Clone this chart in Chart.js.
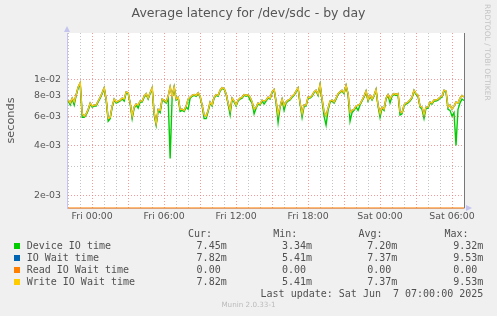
<!DOCTYPE html>
<html>
<head>
<meta charset="utf-8">
<script src="https://cdn.jsdelivr.net/npm/chart.js@4.4.1/dist/chart.umd.min.js"></script>
<style>
  body { margin: 0; background: #f0f0f0; }
  #wrap { position: relative; width: 497px; height: 316px; overflow: hidden; font-family: "DejaVu Sans", sans-serif; color: #555; }
  #wrap canvas { position: absolute; left: 0; top: 0; }
  .t { position: absolute; white-space: pre; line-height: 12px; }
  .mono { font-family: "DejaVu Sans Mono", monospace; font-size: 10px; color: #505050; }
  .sw { position: absolute; width: 6px; height: 6px; }
</style>
</head>
<body>
<div id="wrap">
  <canvas id="latencyChart" width="497" height="316"></canvas>
  <div class="t" style="left:0;width:497px;top:7px;text-align:center;font-size:12.5px;color:#555;">Average latency for /dev/sdc - by day</div>
  <div class="t" style="left:483px;top:4px;writing-mode:vertical-rl;font-size:7.5px;line-height:9px;color:#c4c4c4;">RRDTOOL / TOBI OETIKER</div>
  <div id="legend"></div>
</div>
<script>
// Munin "diskstats latency" day graph, values in milliseconds, one point every 10 min
// first point Thu 22:00 (hour -2 relative to Fri 00:00)
const startHour = -2;
const stepHours = 1 / 6;

const deviceIoTime = [
  7.4, 7.0, 7.6, 7.0, 8.0, 8.9, 9.32, 5.9, 5.9, 6.1,
  6.5, 7.1, 6.8, 6.9, 6.9, 7.3, 7.7, 8.2, 8.8, 7.5,
  5.6, 5.8, 6.8, 7.5, 7.2, 7.3, 7.4, 7.6, 7.4, 8.3,
  8.2, 7.1, 5.8, 6.7, 7.0, 6.7, 7.3, 7.3, 7.8, 8.1,
  7.6, 8.2, 8.8, 6.1, 5.3, 6.5, 6.3, 7.5, 7.4, 7.2,
  7.7, 3.34, 7.8, 8.9, 7.5, 7.7, 6.4, 6.5, 6.4, 6.8,
  6.6, 7.7, 7.9, 8.0, 7.9, 8.2, 7.8, 6.9, 5.8, 5.8,
  6.4, 7.2, 6.9, 7.7, 8.0, 7.9, 8.5, 8.8, 8.7, 8.1,
  7.1, 6.1, 7.6, 7.3, 6.9, 7.4, 7.6, 7.7, 8.0, 7.9,
  8.0, 7.5, 7.2, 6.2, 6.7, 7.1, 7.0, 7.4, 7.1, 7.4,
  7.7, 7.6, 8.3, 8.6, 7.2, 5.5, 6.8, 7.5, 6.5, 7.2,
  7.4, 7.5, 7.8, 8.0, 8.4, 8.8, 7.1, 5.9, 6.9, 6.9,
  7.7, 7.7, 7.9, 8.3, 8.5, 8.0, 9.2, 7.4, 6.0, 5.3,
  6.5, 7.3, 7.4, 7.2, 7.6, 8.1, 8.3, 8.5, 8.2, 9.1,
  8.1, 5.6, 6.3, 6.5, 6.8, 6.5, 7.0, 7.4, 7.8, 8.4,
  7.4, 7.9, 7.5, 7.9, 8.6, 6.9, 5.9, 6.7, 6.5, 7.6,
  8.0, 7.2, 7.9, 8.1, 8.0, 8.1, 6.1, 6.2, 6.9, 7.1,
  7.2, 7.4, 7.7, 8.5, 8.1, 7.9, 6.8, 6.6, 5.8, 6.7,
  6.7, 7.2, 7.1, 7.4, 7.4, 7.5, 7.7, 7.8, 8.5, 8.4,
  6.6, 6.5, 6.0, 6.3, 4.0, 6.6, 7.2, 7.6, 7.45
];

const writeWaitTime = [
  7.5, 7.2, 7.7, 7.3, 8.1, 9.0, 9.53, 6.2, 6.0, 6.2,
  6.6, 7.2, 6.9, 7.0, 7.0, 7.4, 7.8, 8.3, 8.9, 7.6,
  5.8, 5.9, 6.9, 7.6, 7.3, 7.4, 7.5, 7.7, 7.6, 8.4,
  8.3, 7.2, 6.0, 6.8, 7.1, 7.0, 7.4, 7.4, 7.9, 8.2,
  7.7, 8.3, 8.9, 6.3, 5.41, 6.6, 6.5, 7.6, 7.5, 7.3,
  7.9, 9.0, 7.9, 9.0, 7.6, 7.8, 6.6, 6.6, 6.5, 6.9,
  7.6, 7.8, 8.0, 8.1, 8.0, 8.3, 7.9, 7.0, 6.1, 6.0,
  6.5, 7.3, 7.0, 7.8, 8.1, 8.0, 8.6, 8.9, 8.8, 8.2,
  7.2, 6.5, 7.7, 7.4, 7.0, 7.5, 7.7, 7.8, 8.1, 8.0,
  8.1, 7.8, 7.3, 6.6, 6.8, 7.2, 7.1, 7.5, 7.4, 7.5,
  7.8, 7.7, 8.4, 8.7, 7.4, 6.1, 6.9, 7.6, 6.9, 7.3,
  7.5, 7.6, 7.9, 8.1, 8.5, 8.9, 7.2, 6.2, 7.0, 7.0,
  7.8, 7.8, 8.0, 8.4, 8.6, 8.1, 9.3, 7.6, 6.4, 6.0,
  6.7, 7.4, 7.5, 7.3, 7.7, 8.2, 8.4, 8.6, 8.3, 9.2,
  8.2, 6.3, 6.5, 6.6, 6.9, 7.0, 7.1, 7.5, 7.9, 8.5,
  7.5, 8.0, 7.6, 8.0, 8.7, 7.0, 6.2, 6.8, 6.6, 7.7,
  8.1, 7.6, 8.0, 8.2, 8.1, 8.2, 6.4, 6.3, 7.0, 7.2,
  7.3, 7.5, 7.8, 8.6, 8.2, 8.0, 6.9, 6.8, 6.1, 6.8,
  6.8, 7.3, 7.2, 7.5, 7.5, 7.6, 7.8, 7.9, 8.6, 8.5,
  6.8, 7.0, 6.6, 6.9, 7.3, 7.2, 7.7, 8.0, 7.82
];

// IO wait total is the same as write wait here (no reads at all)
const ioWaitTime = [...writeWaitTime];
const readWaitTime = new Array(writeWaitTime.length).fill(0);

const seriesNames = ["Device IO time", "IO Wait time", "Read IO Wait time", "Write IO Wait time"];
const seriesColors = ["#00cc00", "#0066b3", "#ff8000", "#ffcc00"];
const curValues = ["7.45m", "7.82m", "0.00 ", "7.82m"];
const minValues = ["3.34m", "5.41m", "0.00 ", "5.41m"];
const avgValues = ["7.20m", "7.37m", "0.00 ", "7.37m"];
const maxValues = ["9.32m", "9.53m", "0.00 ", "9.53m"];

const xLabelHours = [0, 6, 12, 18, 24, 30];
const xTickLabels = ["Fri 00:00", "Fri 06:00", "Fri 12:00", "Fri 18:00", "Sat 00:00", "Sat 06:00"];
const yGridValues = [0.002, 0.003, 0.004, 0.005, 0.006, 0.007, 0.008, 0.01];
const yTickLabels = ["2e-03", "", "4e-03", "", "6e-03", "", "8e-03", "1e-02"];

const yMin = 0.00168;
const yMax = 0.019;

// ms -> seconds, zero sits on the floor of the log axis like rrdtool does
function toPoints(values) {
  return values.map((v, i) => ({
    x: startHour + i * stepHours,
    y: v > 0 ? v / 1000 : yMin,
  }));
}

const hourTicks = [];
for (let h = -2; h <= 30; h++) hourTicks.push(h);

const gridRed = "rgba(240, 120, 120, 0.75)";
const gridGray = "rgba(190, 190, 190, 0.9)";
const axisBlue = "#c4c4ee";

const framePlugin = {
  id: "frame",
  beforeDraw(chart) {
    const { ctx, chartArea: a } = chart;
    ctx.save();
    ctx.fillStyle = "#ffffff";
    ctx.fillRect(a.left, a.top, a.right - a.left, a.bottom - a.top);
    ctx.restore();
  },
  afterDraw(chart) {
    const { ctx, chartArea: a } = chart;
    ctx.save();
    ctx.strokeStyle = "#777";
    ctx.lineWidth = 1;
    const rx = Math.round(a.right) + 0.5;
    ctx.beginPath();
    ctx.moveTo(rx, a.top);
    ctx.lineTo(rx, a.bottom);
    ctx.stroke();
    // axis arrows
    ctx.fillStyle = axisBlue;
    ctx.beginPath();
    ctx.moveTo(a.left - 3, a.top - 1);
    ctx.lineTo(a.left + 3, a.top - 1);
    ctx.lineTo(a.left, a.top - 7);
    ctx.fill();
    ctx.beginPath();
    ctx.moveTo(a.right + 2, a.bottom - 3);
    ctx.lineTo(a.right + 2, a.bottom + 3);
    ctx.lineTo(a.right + 8, a.bottom);
    ctx.fill();
    ctx.restore();
  },
};

const ctx = document.getElementById("latencyChart").getContext("2d");
new Chart(ctx, {
  type: "line",
  data: {
    datasets: [
      { label: seriesNames[0], data: toPoints(deviceIoTime), borderColor: seriesColors[0], order: 4 },
      { label: seriesNames[1], data: toPoints(ioWaitTime), borderColor: seriesColors[1], order: 3 },
      {
        label: seriesNames[2],
        data: toPoints(readWaitTime),
        borderColor: "rgba(255, 128, 0, 0.7)",
        order: 2,
        borderWidth: 1.5,
        clip: { left: 0, right: 0, top: 0, bottom: 2 },
      },
      { label: seriesNames[3], data: toPoints(writeWaitTime), borderColor: seriesColors[3], order: 1 },
    ],
  },
  options: {
    responsive: false,
    animation: false,
    layout: { padding: { top: 33, right: 33, bottom: 88, left: 0 } },
    elements: {
      point: { radius: 0 },
      line: { borderWidth: 1.4, tension: 0, fill: false },
    },
    plugins: {
      legend: { display: false },
      tooltip: { enabled: false },
    },
    scales: {
      x: {
        type: "linear",
        min: -2.1,
        max: 31,
        afterBuildTicks: (axis) => {
          axis.ticks = hourTicks.map((h) => ({ value: h }));
        },
        afterFit: (axis) => {
          axis.height = 20;
        },
        grid: {
          drawTicks: false,
          lineWidth: 1,
          color: (c) => (c.tick && c.tick.value % 3 === 0 ? gridRed : gridGray),
        },
        border: { display: true, color: axisBlue, dash: [1, 2] },
        ticks: {
          autoSkip: false,
          maxRotation: 0,
          padding: 3,
          color: "#555",
          font: { family: "DejaVu Sans", size: 9.4 },
          callback: (value) => {
            const i = xLabelHours.indexOf(value);
            return i >= 0 ? xTickLabels[i] : "";
          },
        },
      },
      y: {
        type: "logarithmic",
        min: yMin,
        max: yMax,
        afterBuildTicks: (axis) => {
          axis.ticks = yGridValues.map((v) => ({ value: v }));
        },
        afterFit: (axis) => {
          axis.width = 67;
        },
        grid: {
          drawTicks: false,
          lineWidth: 1,
          color: (c) => (c.index !== undefined && yTickLabels[c.index] ? gridRed : gridGray),
        },
        border: { display: true, color: axisBlue, dash: [1, 2] },
        title: {
          display: true,
          text: "seconds",
          color: "#555",
          font: { family: "DejaVu Sans", size: 11.3 },
        },
        ticks: {
          padding: 6,
          color: "#555",
          font: { family: "DejaVu Sans", size: 9.4 },
          callback: (value, index) => yTickLabels[index],
        },
      },
    },
  },
  plugins: [framePlugin],
});

// Munin style legend table under the graph
function buildLegend() {
  const box = document.getElementById("legend");
  const colRight = [226.7, 312, 397.3, 483.3];
  const headers = ["Cur:", "Min:", "Avg:", "Max:"];
  const columns = [curValues, minValues, avgValues, maxValues];
  const rowTop = 239.7;
  let html = "";
  headers.forEach((h, c) => {
    html += `<div class="t mono" style="top:${rowTop - 12}px;right:${497 - colRight[c] + 14.7}px;">${h}</div>`;
  });
  seriesNames.forEach((name, r) => {
    const top = rowTop + r * 12;
    html += `<div class="sw" style="left:14px;top:${top + 3}px;background:${seriesColors[r]};"></div>`;
    html += `<div class="t mono" style="left:26.7px;top:${top}px;">${name}</div>`;
    columns.forEach((col, c) => {
      html += `<div class="t mono" style="top:${top}px;right:${497 - colRight[c]}px;">${col[r]}</div>`;
    });
  });
  html += `<div class="t mono" style="top:${rowTop + 48}px;right:${497 - 483.3}px;">Last update: Sat Jun  7 07:00:00 2025</div>`;
  html += `<div class="t" style="top:299px;left:0;width:497px;text-align:center;font-size:7.2px;color:#bbb;">Munin 2.0.33-1</div>`;
  box.innerHTML = html;
}
buildLegend();
</script>
</body>
</html>
